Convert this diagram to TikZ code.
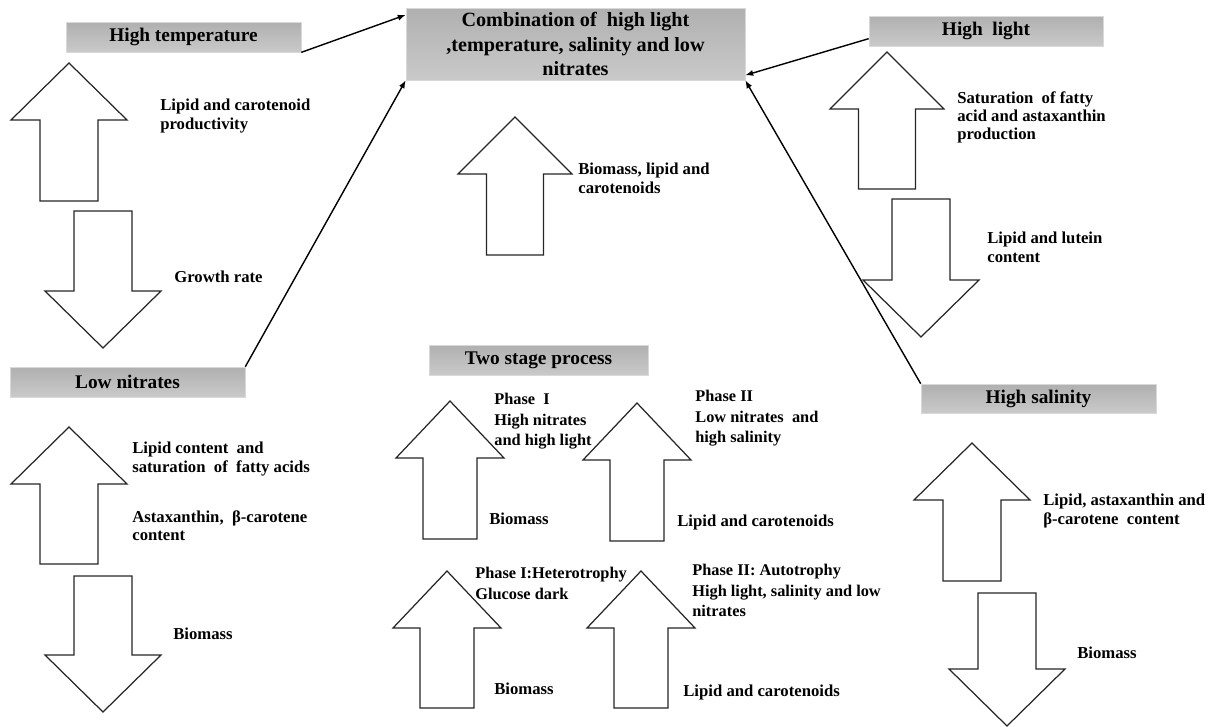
\documentclass[tikz,border=0pt]{standalone}
\usepackage{fontspec}
\setmainfont{Liberation Serif}
\usetikzlibrary{calc, arrows.meta}

% outline block arrows: [head half width]{centre x}{tip y}{tail y}
\newcommand{\blockup}[4][58]{%
  \draw[blockarr] (#2,#3) -- (#2+#1,#3+57) -- (#2+#1/2,#3+57) -- (#2+#1/2,#4)
    -- (#2-#1/2,#4) -- (#2-#1/2,#3+57) -- (#2-#1,#3+57) -- cycle;}
\newcommand{\blockdown}[4][58]{%
  \draw[blockarr] (#2-#1/2,#3) -- (#2+#1/2,#3) -- (#2+#1/2,#4-57) -- (#2+#1,#4-57)
    -- (#2,#4) -- (#2-#1,#4-57) -- (#2-#1/2,#4-57) -- cycle;}

\begin{document}
\begin{tikzpicture}[
  x=0.02cm, y=-0.02cm,
  factor/.style = {draw=gray!30, top color=gray!62, bottom color=gray!42,
                   inner sep=0, minimum height=0.6cm,
                   font=\fontsize{11}{13}\selectfont\bfseries},
  effect/.style = {anchor=north west, inner sep=0, align=left,
                   font=\fontsize{9.5}{10.3}\selectfont\bfseries},
  phase/.style = {effect, font=\fontsize{9.3}{11.7}\selectfont\bfseries},
  blockarr/.style = {draw=black!85, line width=0.7pt, fill=white},
  conn/.style = {-{Latex[length=4.5pt,width=3.5pt]}, line width=0.8pt}
]
\useasboundingbox (0,0) rectangle (1218,727);

% Factor boxes
\node (comb) [factor, minimum width=6.78cm, minimum height=1.44cm, align=center,
  font=\fontsize{11.5}{14.2}\selectfont\bfseries] at (575.5,44)
  {Combination of\ \ high light\\,temperature, salinity and low\\nitrates};
\node (ht) [factor, minimum width=4.7cm]  at (183.5,37)  {High temperature};
\node (hl) [factor, minimum width=4.68cm] at (986,31)    {High\ \ light};
\node (ln) [factor, minimum width=4.7cm]  at (127.5,382) {Low nitrates};
\node (ts) [factor, minimum width=4.38cm] at (538.5,360) {Two stage process};
\node (hs) [factor, minimum width=4.7cm, minimum height=0.58cm] at (1038.5,398.5) {High salinity};

% Connectors to the combination
\draw[conn] (ht.south east) -- ($(comb.north west)!0.1!(comb.south west)$);
\draw[conn] (ln.north east) -- (comb.south west);
\draw[conn] ($(hl.north west)!0.75!(hl.south west)$) -- ($(comb.north east)!0.93!(comb.south east)$);
\draw[conn] (hs.north west) -- (comb.south east);

% High temperature
\blockup{69}{63}{201}
\blockdown{103}{211}{348}
\node (htup) [effect] at (160,99) {Lipid and carotenoid\\productivity};
\node (htdown) [effect] at (174,271) {Growth rate};

% Combination
\blockup[57]{515}{117}{255}
\node (combup) [effect] at (578,163) {Biomass, lipid and\\carotenoids};

% High light
\blockup[57]{887}{52}{189}
\blockdown{921}{199}{337}
\node (hlup) [effect] at (957,91) {Saturation\ \ of fatty\\acid and astaxanthin\\production};
\node (hldown) [effect] at (987,232) {Lipid and lutein\\content};

% Low nitrates
\blockup{69}{427}{564}
\blockdown{103}{576}{712}
\node (lnup) [effect] at (132,442) {Lipid content\ \ and\\saturation\ \ of\ \ fatty acids};
\node (lnup2) [effect] at (132,510) {Astaxanthin,\ \ β-carotene\\content};
\node (lndown) [effect] at (173,628) {Biomass};

% Two stage process
\blockup[54]{450}{401}{539}
\blockup[54]{637}{403}{541}
\blockup[54]{447}{571}{708}
\blockup[54]{641}{571}{708}
\node (p1) [phase] at (494,393) {Phase\ \ I\\High nitrates\\and high light};
\node (p1out) [effect] at (489,513) {Biomass};
\node (p2) [phase] at (695,390) {Phase II\\Low nitrates\ \ and\\high salinity};
\node (p2out) [effect] at (677,515) {Lipid and carotenoids};
\node (h1) [phase] at (475,567) {Phase I:Heterotrophy\\Glucose dark};
\node (h1out) [effect] at (494,683) {Biomass};
\node (h2) [phase] at (692,564) {Phase II: Autotrophy\\High light, salinity and low\\nitrates};
\node (h2out) [effect] at (683,685) {Lipid and carotenoids};

% High salinity
\blockup{972}{443}{581}
\blockdown{1007}{593}{726}
\node (hsup) [effect] at (1043,494) {Lipid, astaxanthin and\\β-carotene\ \ content};
\node (hsdown) [effect] at (1077,647) {Biomass};

\end{tikzpicture}
\end{document}
